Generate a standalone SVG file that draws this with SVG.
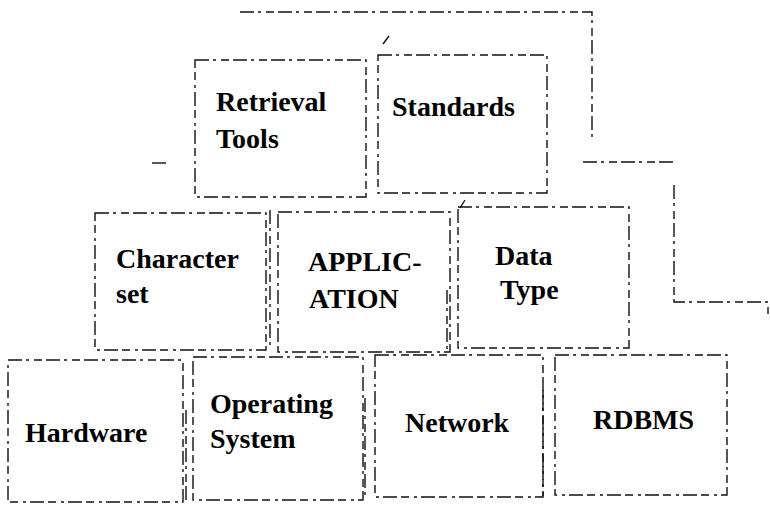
<svg xmlns="http://www.w3.org/2000/svg" width="770" height="505" viewBox="0 0 770 505">
<style>
.b{fill:none;stroke:#111;stroke-width:1.4;stroke-dasharray:14 4 3 5 8 4}
.t{font-family:"Liberation Serif","Times New Roman",serif;font-weight:bold;font-size:28px;fill:#000}
</style>
<rect width="770" height="505" fill="#fff"/>
<g id="connectors">
<polyline class="b" points="240,12 592,12 592,140"/>
<polyline class="b" points="583,162 673,162"/>
<polyline class="b" points="674,185 674,302 768,302 768,314"/>
<line class="b" x1="152" y1="163" x2="166" y2="163"/>
<line class="b" x1="383" y1="44" x2="389" y2="36"/>
<line class="b" x1="460" y1="208" x2="465" y2="200"/>
<line class="b" x1="270" y1="210" x2="270" y2="350"/>
<line class="b" x1="447" y1="290" x2="447" y2="350"/>
<line class="b" x1="186" y1="410" x2="186" y2="500"/>
<line class="b" x1="365" y1="398" x2="365" y2="498"/>
<line class="b" x1="543" y1="390" x2="543" y2="496"/>
</g>
<g id="retrieval"><rect class="b" x="195" y="60" width="171" height="137"/><text class="t" x="216" y="111">Retrieval</text><text class="t" x="216" y="148">Tools</text></g>
<g id="standards"><rect class="b" x="378" y="55" width="169" height="138"/><text class="t" x="392" y="116">Standards</text></g>
<g id="charset"><rect class="b" x="95" y="213" width="171" height="137"/><text class="t" x="116" y="268">Character</text><text class="t" x="116" y="303">set</text></g>
<g id="application"><rect class="b" x="278" y="212" width="172" height="140"/><text class="t" x="308" y="271">APPLIC-</text><text class="t" x="309" y="308">ATION</text></g>
<g id="datatype"><rect class="b" x="458" y="207" width="171" height="141"/><text class="t" x="495" y="265">Data</text><text class="t" x="500" y="299">Type</text></g>
<g id="hardware"><rect class="b" x="8" y="360" width="175" height="142"/><text class="t" x="25" y="442">Hardware</text></g>
<g id="os"><rect class="b" x="193" y="357" width="170" height="143"/><text class="t" x="210" y="413">Operating</text><text class="t" x="210" y="448">System</text></g>
<g id="network"><rect class="b" x="375" y="355" width="168" height="142"/><text class="t" x="405" y="432">Network</text></g>
<g id="rdbms"><rect class="b" x="555" y="355" width="172" height="140"/><text class="t" x="593" y="429">RDBMS</text></g>
</svg>
